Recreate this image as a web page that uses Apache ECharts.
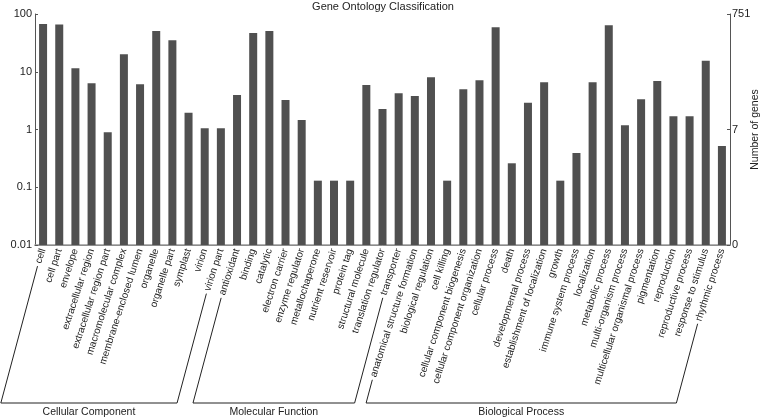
<!DOCTYPE html>
<html>
<head>
<meta charset="utf-8">
<script src="https://cdn.jsdelivr.net/npm/echarts@6/dist/echarts.min.js"></script>
<style>html,body{margin:0;padding:0;background:#fff}#c{width:766px;height:420px}</style>
</head>
<body>
<div id="c"></div>
<script>
const categories = [
  'cell','cell part','envelope','extracellular region','extracellular region part','macromolecular complex',
  'membrane-enclosed lumen','organelle','organelle part','symplast','virion','virion part',
  'antioxidant','binding','catalytic','electron carrier','enzyme regulator','metallochaperone',
  'nutrient reservoir','protein tag','structural molecule','translation regulator','transporter',
  'anatomical structure formation','biological regulation','cell killing','cellular component biogenesis',
  'cellular component organization','cellular process','death','developmental process',
  'establishment of localization','growth','immune system process','localization','metabolic process',
  'multi-organism process','multicellular organismal process','pigmentation','reproduction',
  'reproductive process','response to stimulus','rhythmic process'
];
const percentOfGenes = [
  67, 66, 11.5, 6.3, 0.9, 20,
  6.1, 51, 35, 1.95, 1.05, 1.05,
  3.95, 47, 50.8, 3.24, 1.46, 0.13,
  0.13, 0.13, 5.9, 2.26, 4.23,
  3.8, 8.0, 0.13, 5.0,
  7.1, 58.8, 0.26, 2.9,
  6.6, 0.13, 0.39, 6.6, 64,
  1.18, 3.33, 6.9, 1.69,
  1.69, 15.5, 0.52
];
const leftTickLabels = ['0.01', '0.1', '1', '10', '100'];
const rightTickLabels = {0: '0', 2: '7', 4: '751'};
const groupNames = ['Cellular Component', 'Molecular Function', 'Biological Process'];
const groupFirst = [0, 12, 23];
const groupLast = [11, 22, 42];

const FONT = '"Liberation Sans", Arial, Helvetica, sans-serif';
const LABEL_ROT = 72;
const LINE_ANG = 75;
const LABEL_SIZE = 10;
const LABEL_MARGIN = 4;

const chart = echarts.init(document.getElementById('c'), null, {renderer: 'canvas'});
const logData = percentOfGenes.map(v => Math.log10(v) + 2);

chart.setOption({
  animation: false,
  title: {
    text: 'Gene Ontology Classification', left: 'center', top: -4,
    textStyle: {fontFamily: FONT, fontSize: 11, fontWeight: 'normal', color: '#222'}
  },
  grid: {left: 35, right: 36, top: 14, bottom: 175, containLabel: false, outerBoundsMode: 'none'},
  xAxis: [{
    type: 'category', data: categories, position: 'bottom',
    axisLine: {lineStyle: {color: '#666', width: 1}},
    axisTick: {inside: true, length: 3, lineStyle: {color: '#777'}},
    axisLabel: {rotate: LABEL_ROT, interval: 0, margin: LABEL_MARGIN, fontFamily: FONT, fontSize: LABEL_SIZE, color: '#222'}
  }, {
    type: 'category', data: categories, position: 'top',
    axisLine: {lineStyle: {color: '#999', width: 1.5}},
    axisTick: {inside: true, length: 3, lineStyle: {color: '#777'}},
    axisLabel: {show: false}
  }],
  yAxis: [{
    type: 'value', min: 0, max: 4, interval: 1, position: 'left',
    name: 'Percent of genes', nameLocation: 'middle', nameGap: 22,
    nameTextStyle: {fontFamily: FONT, fontSize: 10.5, color: '#222'},
    axisLine: {show: true, lineStyle: {color: '#555'}},
    axisTick: {show: true, inside: true, length: 3, lineStyle: {color: '#555'}},
    axisLabel: {margin: 3, fontFamily: FONT, fontSize: 11, color: '#222', formatter: v => leftTickLabels[Math.round(v)]},
    splitLine: {show: false}
  }, {
    type: 'value', min: 0, max: 4, interval: 2, position: 'right',
    name: 'Number of genes', nameLocation: 'middle', nameGap: 25, nameRotate: 90, nameMoveOverlap: false,
    nameTextStyle: {fontFamily: FONT, fontSize: 10.5, color: '#222', verticalAlign: 'middle'},
    axisLine: {show: true, lineStyle: {color: '#555'}},
    axisTick: {show: true, inside: true, length: 3, lineStyle: {color: '#555'}},
    axisLabel: {margin: 2, fontFamily: FONT, fontSize: 11, color: '#222', formatter: v => rightTickLabels[Math.round(v)] || ''},
    splitLine: {show: false}
  }],
  series: [{
    type: 'bar', data: logData, barWidth: 8, xAxisIndex: 0, yAxisIndex: 0,
    itemStyle: {color: '#505050'}
  }]
});

// Group brackets computed from axis pixel positions and label text widths
const ctx = document.createElement('canvas').getContext('2d');
ctx.font = LABEL_SIZE + 'px ' + FONT;
const axisY = chart.convertToPixel({yAxisIndex: 0}, 0);
const baseY = 403;
const ra = LABEL_ROT * Math.PI / 180, la = LINE_ANG * Math.PI / 180;
function leaderStart(i) {
  const x = chart.convertToPixel({xAxisIndex: 0}, categories[i]);
  const w = ctx.measureText(categories[i]).width + 3;
  return [x - w * Math.cos(ra), axisY + LABEL_MARGIN + w * Math.sin(ra)];
}
function toBase(p) {
  const t = (baseY - p[1]) / Math.sin(la);
  return [p[0] - t * Math.cos(la), baseY];
}
const graphics = [];
for (let g = 0; g < groupNames.length; g++) {
  const a = leaderStart(groupFirst[g]);
  const b = leaderStart(groupLast[g]);
  const a2 = toBase(a), b2 = toBase(b);
  graphics.push({
    type: 'polyline', shape: {points: [a, a2, b2, b]},
    style: {stroke: '#222', lineWidth: 1, fill: null}, silent: true
  });
  graphics.push({
    type: 'text', x: (a2[0] + b2[0]) / 2, y: baseY + 4,
    style: {text: groupNames[g], font: '10.5px ' + FONT, fill: '#222', align: 'center', verticalAlign: 'top'}
  });
}
chart.setOption({graphic: graphics});
</script>
</body>
</html>
